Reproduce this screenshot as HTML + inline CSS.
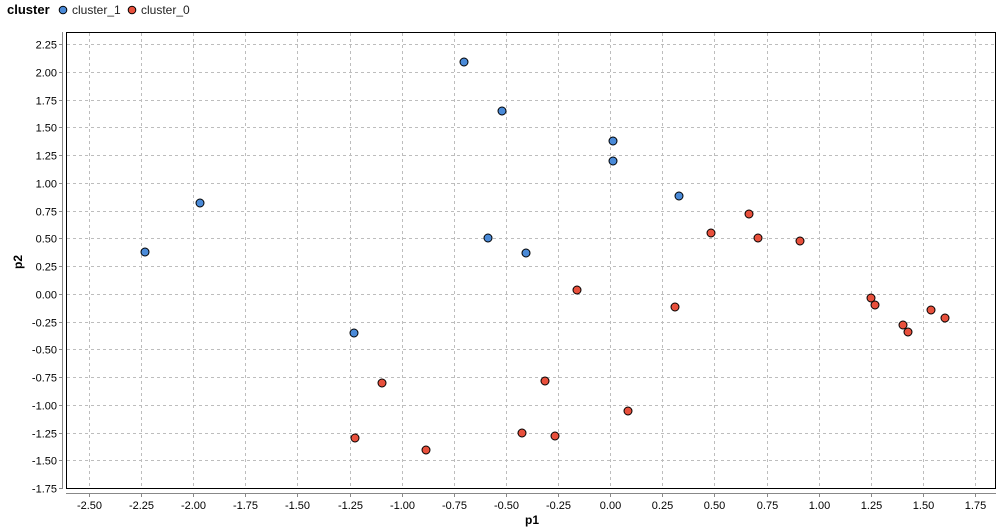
<!DOCTYPE html>
<html><head><meta charset="utf-8"><style>
html,body{margin:0;padding:0;background:#fff;}
svg{display:block;font-family:"Liberation Sans",sans-serif;}
</style></head><body>
<svg width="1008" height="530" xmlns="http://www.w3.org/2000/svg">
<rect width="1008" height="530" fill="#fff"/>
<text x="7" y="14" font-size="13" font-weight="bold">cluster</text>
<circle cx="63" cy="10" r="3.8" fill="#4a8ad8" stroke="#000" stroke-width="1"/>
<text x="72" y="14" font-size="12" fill="#222">cluster_1</text>
<circle cx="132" cy="10" r="3.8" fill="#e8503c" stroke="#000" stroke-width="1"/>
<text x="141" y="14" font-size="12" fill="#222">cluster_0</text>
<g id="grid" stroke="#bdbdbd" stroke-width="1" stroke-dasharray="3,3" shape-rendering="crispEdges">
</g>
<rect x="66.5" y="32.5" width="929" height="456" fill="none" stroke="#000" stroke-width="1" shape-rendering="crispEdges"/>
<line x1="62.5" y1="32" x2="62.5" y2="489" stroke="#888" shape-rendering="crispEdges"/>
<line x1="66" y1="493.5" x2="996" y2="493.5" stroke="#888" shape-rendering="crispEdges"/>
<g id="ticks" font-size="11" fill="#000"></g>
<text x="532" y="524" font-size="12" font-weight="bold" text-anchor="middle">p1</text>
<text x="22" y="262" font-size="12" font-weight="bold" text-anchor="middle" transform="rotate(-90 22 262)">p2</text>
<g id="pts" stroke="#000" stroke-width="1"></g>
<script>
var ns="http://www.w3.org/2000/svg";
function el(t,a,p,txt){var e=document.createElementNS(ns,t);for(var k in a)e.setAttribute(k,a[k]);if(txt)e.textContent=txt;document.getElementById(p).appendChild(e);}
var grid='grid',tk='ticks';
for(var i=0;i<=17;i++){var v=-2.5+i*0.25;var x=Math.round(610.2+v*208.5)+0.5;
el('line',{x1:x,y1:33,x2:x,y2:488},grid);
el('line',{x1:x,y1:494,x2:x,y2:497,stroke:'#888'},tk);
el('text',{x:x,y:509,'text-anchor':'middle'},tk,v.toFixed(2));}
for(var i=0;i<=16;i++){var v=-1.75+i*0.25;var y=Math.round(293.75-v*111)+0.5;
el('line',{x1:67,y1:y,x2:995,y2:y},grid);
el('line',{x1:59,y1:y,x2:62,y2:y,stroke:'#888'},tk);
el('text',{x:57,y:y+4,'text-anchor':'end'},tk,v.toFixed(2));}
var blue=[[464,62],[502,111],[613,141],[613,161],[679,196],[200,203],[145,252],[488,238],[526,253],[354,333]];
var red=[[577,290],[711,233],[749,214],[758,238],[800,241],[675,307],[871,298],[875,305],[931,310],[945,318],[903,325],[908,332],[382,383],[545,381],[628,411],[522,433],[555,436],[355,438],[426,450]];
blue.forEach(function(p){el('circle',{cx:p[0],cy:p[1],r:4,fill:'#4a8ad8'},'pts');});
red.forEach(function(p){el('circle',{cx:p[0],cy:p[1],r:4,fill:'#e8503c'},'pts');});
</script>
</svg>
</body></html>
